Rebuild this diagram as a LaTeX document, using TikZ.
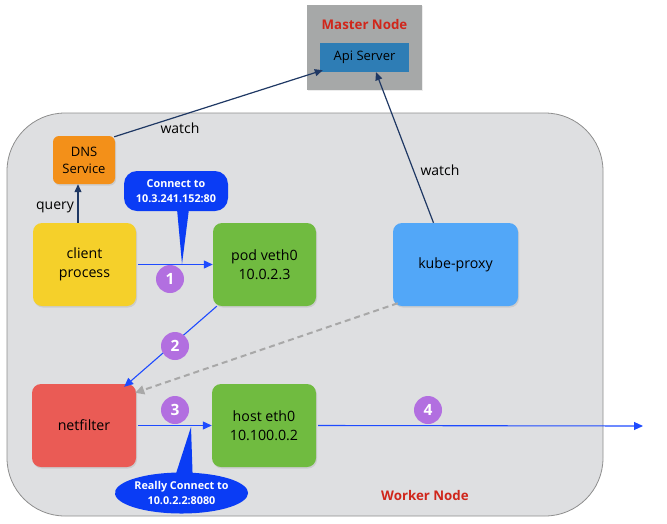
\documentclass[tikz,border=0pt]{standalone}
\usepackage{fontspec}
\setmainfont{Open Sans}
\usetikzlibrary{arrows.meta,shapes.geometric,shapes.callouts,shadows,calc}
\definecolor{workerfill}{HTML}{DEDFE1}
\definecolor{workerline}{HTML}{8E8E8E}
\definecolor{mastergray}{HTML}{A6A8A8}
\definecolor{apiblue}{HTML}{2E7DB5}
\definecolor{dnsorange}{HTML}{F39019}
\definecolor{clientyellow}{HTML}{F5D02A}
\definecolor{podgreen}{HTML}{70BB40}
\definecolor{kubeblue}{HTML}{52A7F8}
\definecolor{netred}{HTML}{EA5B55}
\definecolor{stepviolet}{HTML}{B26FE0}
\definecolor{bubbleblue}{HTML}{0A3CF5}
\definecolor{navyline}{HTML}{1F3864}
\definecolor{flowblue}{HTML}{1E4BFF}
\definecolor{titlered}{HTML}{D0261B}
\definecolor{dashgray}{HTML}{A8A8A8}
\begin{document}
\begin{tikzpicture}[x=1pt,y=-1pt,
  box/.style={rounded corners=9pt, minimum width=103pt, minimum height=83pt, align=center,
    font=\fontsize{14.2}{19}\selectfont, inner sep=0pt,
    drop shadow={opacity=0.2, shadow xshift=1pt, shadow yshift=-1.5pt}},
  stepnum/.style={circle, fill=stepviolet, minimum size=28pt, inner sep=0pt, text=white,
    font=\fontsize{15.5}{15.5}\selectfont\bfseries},
  lbl/.style={font=\fontsize{14}{16}\selectfont, inner sep=0pt},
  navyarrow/.style={draw=navyline, line width=1.2pt, -{Triangle[length=8pt,width=7pt]}},
  flowarrow/.style={draw=flowblue, line width=1.1pt, -{Triangle[length=9pt,width=8pt]}},
  bubbletext/.style={text=white, font=\fontsize{10.8}{15}\selectfont\bfseries, align=center},
  title/.style={text=titlered, font=\fontsize{13.3}{16}\selectfont\bfseries, inner sep=0pt}
]
\useasboundingbox (0,0) rectangle (667,523);
% worker node area
\draw[fill=workerfill, draw=workerline, line width=0.8pt, rounded corners=58pt] (7,113) rectangle (603,516);
\node[title] (workertitle) at (425,496) {Worker Node};
% master node
\node[fill=mastergray, minimum width=115pt, minimum height=85pt, inner sep=0pt,
  drop shadow={opacity=0.15, shadow xshift=1pt, shadow yshift=-1pt}] (master) at (364.5,47.5) {};
\node[title] (mastertitle) at (364.5,25) {Master Node};
\node[fill=apiblue, minimum width=89pt, minimum height=29pt, inner sep=0pt,
  font=\fontsize{13}{15}\selectfont] (api) at (364.5,57.5) {Api Server};
% components
\node[box, fill=dnsorange, minimum width=62pt, minimum height=48pt, rounded corners=6pt,
  font=\fontsize{13}{17}\selectfont] (dns) at (84,160) {DNS\\Service};
\node[box, fill=clientyellow] (client) at (84.5,264.5) {client\\process};
\node[box, fill=podgreen] (pod) at (264.5,264.5) {pod veth0\\10.0.2.3};
\node[box, fill=kubeblue, minimum width=125pt] (kube) at (455.5,264.5) {kube-proxy};
\node[box, fill=netred, minimum width=104pt] (netfilter) at (84,425.5) {netfilter};
\node[box, fill=podgreen, minimum width=104pt] (host) at (264,425.5) {host eth0\\10.100.0.2};
% watch / query arrows
\draw[navyarrow] ([shift={(-1,1)}]dns.north east) -- ([shift={(3,-2)}]api.south west);
\node[lbl] (watchdns) at (180,128) {watch};
\draw[navyarrow] ([shift={(-22,0)}]kube.north) -- ([shift={(11.5,0)}]api.south);
\node[lbl] (watchkube) at (440,170) {watch};
\draw[navyarrow] ([shift={(-6.5,0)}]client.north) -- ([shift={(-6,0)}]dns.south);
\node[lbl] (query) at (55,207) {query};
% flow arrows
\coordinate (exit) at (643,426);
\draw[flowarrow] ([xshift=2pt]client.east) -- (pod.west);
\draw[flowarrow] ([shift={(4,0)}]pod.south west) -- ([shift={(-12,3)}]netfilter.north east);
\draw[draw=dashgray, line width=2pt, dash pattern=on 6pt off 4pt,
  -{Triangle[length=9pt,width=9pt]}] ([shift={(5,-3)}]kube.south west) -- ([shift={(-1,9)}]netfilter.north east);
\draw[flowarrow] ([xshift=2pt]netfilter.east) -- (host.west);
\draw[flowarrow] ([xshift=2pt]host.east) -- (exit);
% callouts
\coordinate (tipone) at (182,264);
\node[fill=bubbleblue, rounded corners=13pt, minimum width=104pt, minimum height=40pt, inner sep=0pt,
  bubbletext] (connect) at (176,191) {Connect to\\10.3.241.152:80};
\fill[bubbleblue] (177,209) -- (tipone) -- (189,209) -- cycle;
\coordinate (tiptwo) at (191,427);
\node[ellipse callout, fill=bubbleblue, minimum width=104pt, minimum height=41pt, inner sep=0pt,
  callout absolute pointer={(tiptwo)}, callout pointer arc=14, bubbletext] (really) at (181.5,493)
  {Really Connect to\\10.0.2.2:8080};
% step numbers
\node[stepnum] (s1) at (170,279) {1};
\node[stepnum] (s2) at (175,346) {2};
\node[stepnum] (s3) at (175,410) {3};
\node[stepnum] (s4) at (428,410) {4};
\end{tikzpicture}
\end{document}
